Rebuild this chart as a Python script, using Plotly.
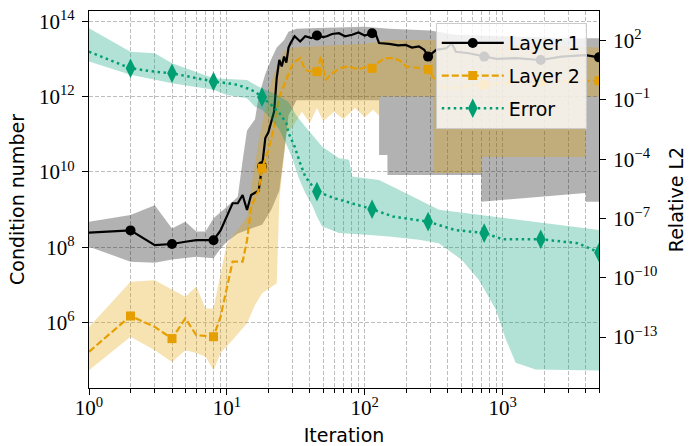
import numpy as np
import plotly.graph_objects as go

# ---------------- data (log10 of values) ----------------
l1_iter = [1, 2, 3, 4, 5, 6, 7, 8, 9, 10, 11, 12, 13, 14, 15, 16, 17, 18, 19, 20, 21, 22, 23, 24, 25, 26, 27, 28, 29,
           31, 34, 37, 41, 45, 50, 53, 58, 65, 72, 81, 90, 100, 113, 120, 127,
           150, 175, 198, 220, 247, 270, 288,
           330, 389, 429, 458, 569, 735, 900, 1240, 1890, 2672, 4000, 5000]
l1_log = [8.39, 8.45, 8.06, 8.09, 8.15, 8.19, 8.19, 8.19, 8.45, 8.81, 9.17, 9.17, 9.39, 8.99, 9.39, 9.45, 9.5, 10.15,
          10.9, 11.05, 11.3, 11.6, 12.5, 12.97, 12.8, 13.06, 12.9, 13.3, 13.42,
          13.6, 13.46, 13.6, 13.55, 13.62, 13.58, 13.6, 13.66, 13.68, 13.6, 13.64, 13.7, 13.62, 13.68, 13.66, 13.42,
          13.4, 13.36, 13.37, 13.3, 13.33, 13.24, 13.06,
          13.24, 13.28, 13.41, 13.19, 13.15, 13.06, 13.0, 13.02, 12.97, 13.06, 13.1, 13.04]

l2_iter = [1, 2, 3, 4, 5, 6, 7, 8, 9, 10, 11, 12, 13, 14, 15, 16, 17, 18, 19, 20,
           22, 24, 26, 28, 30,
           34, 37, 41, 45, 48, 52, 58, 66, 76, 90, 100, 113, 125, 140, 160, 180, 200, 230, 260, 288,
           350, 430, 560, 735, 1000, 1500, 1890, 3000, 5000]
l2_log = [5.23, 6.18, 5.89, 5.58, 6.12, 5.67, 5.65, 5.63, 6.16, 6.9, 7.62, 7.62, 7.62, 8.19, 9.08, 9.3, 9.52, 10.1,
          10.35, 10.58,
          11.2, 12.0, 12.3, 12.62, 12.88,
          13.02, 12.7, 12.66, 12.66, 13.06, 12.44, 12.62, 12.75, 12.8, 12.72, 12.78, 12.75, 12.9, 13.02, 13.02, 12.95,
          12.8, 12.78, 12.75, 12.72,
          12.25, 12.22, 12.28, 12.31, 12.35, 12.38, 12.4, 12.42, 12.42]

err_iter = [1, 2, 3, 4, 6, 8, 10, 12, 14, 16, 18, 21, 24, 27, 28, 31, 34, 37, 42, 45, 60, 80, 113, 160, 220, 288,
            450, 735, 1000, 1890, 3500, 5000]
err_log = [1.44, 0.6, 0.43, 0.35, 0.1, -0.07, -0.15, -0.24, -0.41, -0.58, -0.86, -1.25, -1.66, -2.18, -2.67, -3.36,
           -4.2, -4.88, -5.38, -5.64, -5.97, -6.22, -6.53, -6.9, -7.05, -7.16, -7.58, -7.74, -8.05, -8.05, -8.25, -8.72]

marker_iters = [2, 4, 8, 18, 45, 113, 288, 735, 1890, 5000]

# shaded spreads
l1_hi_iter = [1, 2, 3, 4, 5, 6, 7, 8, 10, 12, 13, 14, 16, 17, 19, 21, 23, 26, 28, 32, 45, 100, 150, 300, 450, 1000,
              3000, 5000]
l1_hi_log = [8.68, 8.86, 9.12, 8.5, 8.68, 8.42, 8.42, 8.77, 9.08, 9.34, 10.3, 11.1, 11.4, 12.0, 12.6, 13.0, 13.3, 13.5,
             13.72, 13.8, 13.82, 13.85, 13.8, 13.75, 13.64, 13.6, 13.55, 13.55]
l1_lo_iter = [1, 2, 3, 4, 6, 8, 9, 10, 12, 15, 18, 21, 24, 26, 28, 32, 127, 127, 146, 146, 700, 700, 4000, 4000, 5000]
l1_lo_log = [8.02, 7.62, 7.59, 7.68, 7.75, 7.71, 7.97, 8.15, 8.37, 8.5, 8.6, 9.0, 9.5, 10.5, 11.5, 11.9, 11.9, 10.45,
             10.45, 9.92, 9.92, 9.21, 9.44, 9.21, 9.21]

l2_hi_iter = [1, 2, 3, 4, 5, 6, 7, 8, 10, 12, 14, 15, 17, 19, 21, 23, 26, 30, 50, 100, 150, 300, 1000, 5000]
l2_hi_log = [5.89, 7.09, 7.13, 6.87, 6.69, 6.96, 6.38, 6.38, 8.11, 8.46, 8.81, 9.6, 10.8, 11.7, 12.4, 12.8, 13.2, 13.3,
             13.35, 13.4, 13.5, 13.5, 13.4, 13.3]
l2_lo_iter = [1, 2, 3, 4, 5, 6, 7, 8, 9, 11, 14, 16, 18, 23, 24, 27, 30, 35, 40, 45, 50, 60, 70, 85, 100, 115, 127,
              127, 317, 317, 700, 700, 4000, 4000, 5000]
l2_lo_log = [4.74, 5.63, 5.27, 4.96, 5.27, 5.2, 5.1, 4.74, 5.2, 5.54, 5.99, 6.47, 6.78, 7.05, 9.26, 11.03, 11.2, 11.6,
             11.3, 11.7, 11.35, 11.6, 11.4, 11.7, 11.45, 11.65, 11.5, 12.0, 12.0, 9.97, 9.97, 10.4, 10.4, 12.0, 12.0]

err_hi_iter = [1, 2, 3, 4, 8, 14, 17, 20, 24, 28, 32, 37, 49, 65, 77, 81, 127, 177, 345, 4000, 5000]
err_hi_log = [2.63, 1.44, 1.36, 0.86, 0.1, 0.01, -0.33, -0.55, -0.8, -1.1, -1.8, -2.35, -3.36, -3.95, -4.03, -4.88,
              -5.05, -5.55, -6.56, -7.49, -7.58]
err_lo_iter = [1, 2, 4, 8, 10, 14, 16, 18, 20, 24, 28, 30, 33, 37, 42, 45, 49, 65, 102, 150, 247, 345, 506, 671, 891,
               1052, 1244, 1735, 5000]
err_lo_log = [0.94, 0.27, -0.16, -0.49, -0.75, -0.91, -1.34, -1.5, -1.8, -2.5, -3.5, -4.0, -4.9, -5.7, -6.4, -6.9,
              -7.4, -7.74, -7.83, -7.91, -8.08, -8.25, -9.1, -10.1, -11.6, -13.1, -14.3, -14.65, -14.7]

x_major = [1, 10, 100, 1000]
x_major_text = ["10<sup>0</sup>", "10<sup>1</sup>", "10<sup>2</sup>", "10<sup>3</sup>"]
x_minor = [m * d for d in [1, 10, 100] for m in range(2, 10)] + [2000, 3000, 4000, 5000]
y1_ticks = [1e6, 1e8, 1e10, 1e12, 1e14]
y1_text = ["10<sup>6</sup>", "10<sup>8</sup>", "10<sup>10</sup>", "10<sup>12</sup>", "10<sup>14</sup>"]
y2_ticks = [1e2, 1e-1, 1e-4, 1e-7, 1e-10, 1e-13]
y2_text = ["10<sup>2</sup>", "10<sup>−1</sup>", "10<sup>−4</sup>", "10<sup>−7</sup>", "10<sup>−10</sup>",
           "10<sup>−13</sup>"]

# ---------------- styles ----------------
BLACK = "#000000"
ORANGE = "#E69F00"
GREEN = "#009E73"
SANS = "DejaVu Sans"
SERIF = "Liberation Serif"
GRID = "#bdbdbd"
DASHG = "4px,2px"


def pw(v):
    return list(10 ** np.array(v, dtype=float))


def band_poly(xh, yh, xl, yl):
    return list(xh) + list(xl)[::-1], pw(yh) + pw(yl)[::-1]


def markers_of(xs, ys):
    idx = [i for i, x in enumerate(xs) if x in marker_iters]
    return [xs[i] for i in idx], [10 ** ys[i] for i in idx]


fig = go.Figure()

# bands on left axis
for xh, yh, xl, yl, col in [(l1_hi_iter, l1_hi_log, l1_lo_iter, l1_lo_log, "rgba(0,0,0,0.3)"),
                            (l2_hi_iter, l2_hi_log, l2_lo_iter, l2_lo_log, "rgba(230,159,0,0.3)")]:
    bx, by = band_poly(xh, yh, xl, yl)
    fig.add_trace(go.Scatter(x=bx, y=by, fill="toself", fillcolor=col, mode="lines",
                             line=dict(width=0, color="rgba(0,0,0,0)"), showlegend=False, hoverinfo="skip"))

# Layer 1
fig.add_trace(go.Scatter(x=l1_iter, y=pw(l1_log), mode="lines", line=dict(color=BLACK, width=2.2),
                         showlegend=False))
mx, my = markers_of(l1_iter, l1_log)
fig.add_trace(go.Scatter(x=mx, y=my, mode="markers", marker=dict(symbol="circle", size=10, color=BLACK),
                         showlegend=False))
# Layer 2
fig.add_trace(go.Scatter(x=l2_iter, y=pw(l2_log), mode="lines", line=dict(color=ORANGE, width=2.2, dash="7px,3px"),
                         showlegend=False))
mx, my = markers_of(l2_iter, l2_log)
fig.add_trace(go.Scatter(x=mx, y=my, mode="markers", marker=dict(symbol="square", size=9, color=ORANGE),
                         showlegend=False))

# Error on right axis
bx, by = band_poly(err_hi_iter, err_hi_log, err_lo_iter, err_lo_log)
fig.add_trace(go.Scatter(x=bx, y=by, yaxis="y2", fill="toself", fillcolor="rgba(0,158,115,0.3)", mode="lines",
                         line=dict(width=0, color="rgba(0,0,0,0)"), showlegend=False, hoverinfo="skip"))
fig.add_trace(go.Scatter(x=err_iter, y=pw(err_log), yaxis="y2", mode="lines",
                         line=dict(color=GREEN, width=2.5, dash="2.5px,3.5px"), showlegend=False))
mx, my = markers_of(err_iter, err_log)
fig.add_trace(go.Scatter(x=mx, y=my, yaxis="y2", mode="markers",
                         marker=dict(symbol="diamond-tall", size=14, color=GREEN), showlegend=False))

# legend entries
fig.add_trace(go.Scatter(x=[None], y=[None], mode="lines+markers", name="Layer 1", legendgroup="a",
                         line=dict(color=BLACK, width=2.2), marker=dict(symbol="circle", size=10, color=BLACK)))
fig.add_trace(go.Scatter(x=[None], y=[None], mode="lines+markers", name="Layer 2", legendgroup="b",
                         line=dict(color=ORANGE, width=2.2, dash="7px,3px"),
                         marker=dict(symbol="square", size=9, color=ORANGE)))
fig.add_trace(go.Scatter(x=[None], y=[None], mode="lines+markers", name="Error", legendgroup="c",
                         line=dict(color=GREEN, width=2.5, dash="2.5px,3.5px"),
                         marker=dict(symbol="diamond-tall", size=14, color=GREEN)))

fig.update_layout(
    template="none",
    width=690, height=446,
    margin=dict(l=89, r=91, t=11, b=58, autoexpand=False),
    paper_bgcolor="white", plot_bgcolor="white",
    showlegend=True,
    legend=dict(x=0.976, y=0.968, xanchor="right", yanchor="top",
                bgcolor="rgba(255,255,255,0.8)", bordercolor="#cccccc", borderwidth=1,
                font=dict(family=SANS, size=19, color="black"), tracegroupgap=5, itemwidth=62),
    xaxis=dict(type="log", range=[0, np.log10(5000)], tickvals=x_major, ticktext=x_major_text, automargin=False,
               ticks="outside", ticklen=6, tickwidth=1.2, tickcolor="black",
               showline=True, linecolor="black", linewidth=1.3, mirror=True,
               showgrid=True, gridcolor=GRID, griddash=DASHG, gridwidth=1, zeroline=False,
               tickfont=dict(family=SERIF, size=21, color="black"), ticklabelstandoff=-5,
               minor=dict(tickvals=x_minor, ticks="outside", ticklen=3.5, tickwidth=1, tickcolor="black",
                          showgrid=True, gridcolor=GRID, griddash=DASHG, gridwidth=1),
               title=dict(text="Iteration", font=dict(family=SANS, size=19, color="black"), standoff=12)),
    yaxis=dict(type="log", range=[4.27, 14.27], tickvals=y1_ticks, ticktext=y1_text, automargin=False,
               ticks="outside", ticklen=6, tickwidth=1.2, tickcolor="black",
               showline=True, linecolor="black", linewidth=1.3, mirror=True,
               showgrid=True, gridcolor=GRID, griddash=DASHG, gridwidth=1, zeroline=False,
               tickfont=dict(family=SERIF, size=21, color="black"), ticklabelstandoff=3,
               title=dict(text="Condition number", font=dict(family=SANS, size=19, color="black"), standoff=9)),
    yaxis2=dict(type="log", range=[-15.58, 3.5], overlaying="y", side="right", tickvals=y2_ticks, ticktext=y2_text,
                automargin=False,
                ticks="outside", ticklen=6, tickwidth=1.2, tickcolor="black",
                showline=True, linecolor="black", linewidth=1.3, showgrid=False, zeroline=False,
                tickfont=dict(family=SERIF, size=21, color="black"), ticklabelstandoff=3,
                title=dict(text="Relative L2", font=dict(family=SANS, size=19, color="black"), standoff=13)),
)

fig.write_html("out.html", config={"displayModeBar": False},
               post_script="document.body.style.margin='0px';")
